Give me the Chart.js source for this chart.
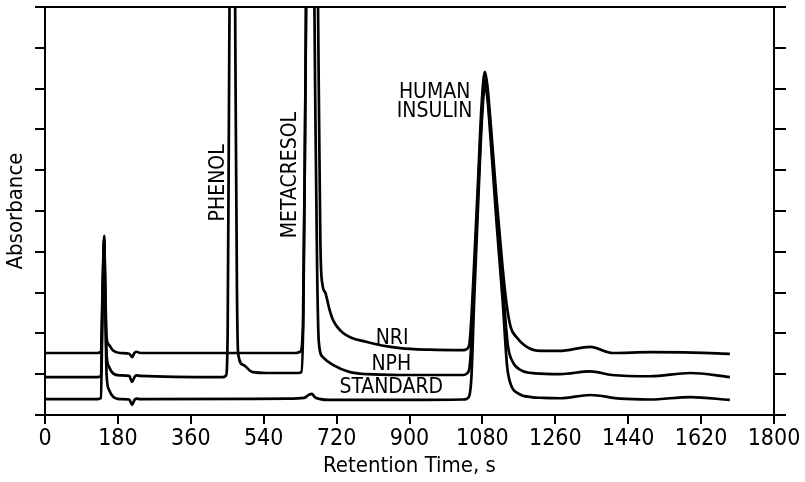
<!DOCTYPE html>
<html><head><meta charset="utf-8">
<script src="https://cdn.jsdelivr.net/npm/chart.js@4.4.0/dist/chart.umd.min.js"></script>
<style>html,body{margin:0;padding:0;background:#fff;}#wrap{width:805px;height:482px;}</style>
</head><body><div id="wrap"><canvas id="c" width="805" height="482"></canvas></div>
<script>
// ---- data (retention time in s, absorbance in arbitrary units) ----
const xTickValues = [0, 180, 360, 540, 720, 900, 1080, 1260, 1440, 1620, 1800];
const seriesNames = ['NRI', 'NPH', 'STANDARD'];

const nriTime = [0,130,138,142,146,149,152,158,168,185,208,215,221,226,235,400,620,630,637,643,650,660,670,676,680,685,692,702,711,736,795,877,950,1032,1042,1048,1053,1060,1070,1078,1086,1092,1100,1115,1130,1140,1150,1165,1185,1215,1270,1346,1402,1494,1600,1691];
const nriAbs  = [1.52,1.52,1.55,3.0,4.39,3.0,1.9,1.72,1.58,1.52,1.50,1.42,1.52,1.55,1.52,1.52,1.52,1.55,2.2,8,16,17,14,8,4.2,3.2,3.0,2.6,2.33,2.01,1.79,1.64,1.60,1.59,1.62,1.75,2.4,3.8,5.9,7.6,8.41,8.1,7.2,5.3,3.6,2.7,2.15,1.9,1.7,1.58,1.57,1.67,1.52,1.54,1.53,1.50];

const nphTime = [0,130,138,142,146,149,152,158,168,185,208,215,221,226,235,440,447,451,455,460,466,470,474,477,489,513,548,625,633,638,643,650,660,667,672,676,686,711,753,795,877,1032,1042,1048,1053,1060,1070,1078,1086,1092,1100,1115,1130,1143,1155,1175,1210,1272,1346,1400,1494,1593,1691];
const nphAbs  = [0.93,0.93,0.96,2.8,4.3,2.8,1.5,1.18,1.02,0.97,0.96,0.81,0.93,0.97,0.96,0.93,0.97,2.0,9,16,16,9,3,1.5,1.23,1.05,1.03,1.03,1.05,2.5,8,16,15,8,3.5,1.8,1.42,1.23,1.05,1.00,0.98,0.98,1.02,1.15,1.8,3.4,5.6,7.3,8.2,7.9,7.0,5.0,3.2,1.7,1.3,1.1,1.02,1.0,1.07,0.98,0.95,1.03,0.93];

const stdTime = [0,130,138,142,146,149,152,158,168,185,208,215,221,226,235,600,640,652,659,666,680,700,900,1032,1042,1048,1053,1060,1070,1078,1086,1092,1100,1115,1130,1141,1150,1170,1200,1230,1272,1346,1420,1494,1593,1691];
const stdAbs  = [0.39,0.39,0.42,2.6,4.2,2.6,1.0,0.62,0.45,0.39,0.38,0.25,0.37,0.40,0.39,0.40,0.42,0.50,0.52,0.44,0.39,0.37,0.37,0.38,0.40,0.48,0.95,2.9,5.3,7.1,8.05,7.8,6.8,4.7,2.8,1.2,0.75,0.52,0.44,0.42,0.41,0.49,0.40,0.38,0.44,0.37];

// ---- build ----
const FONT = '"Liberation Sans Narrow", "DejaVu Sans Condensed", "Liberation Sans", sans-serif';
const pts = (t, a) => t.map((v, i) => ({x: v, y: a[i]}));
const mkSet = (label, t, a) => ({
  label, data: pts(t, a), showLine: true, pointRadius: 0, borderColor: '#000',
  borderWidth: 2.7, cubicInterpolationMode: 'monotone', fill: false
});

const labelsPlugin = {
  id: 'peakLabels',
  afterDatasetsDraw(chart) {
    const {ctx, scales: {x, y}} = chart;
    const items = [
      {text: 'PHENOL', t: 427, a: 5.69, rot: true},
      {text: 'METACRESOL', t: 605, a: 5.88, rot: true},
      {text: 'HUMAN', t: 962, a: 7.92},
      {text: 'INSULIN', t: 962, a: 7.45},
      {text: seriesNames[0], t: 857, a: 1.91},
      {text: seriesNames[1], t: 855, a: 1.25},
      {text: seriesNames[2], t: 855, a: 0.69}
    ];
    ctx.save();
    ctx.fillStyle = '#000';
    ctx.font = '21px ' + FONT;
    ctx.textAlign = 'center';
    ctx.textBaseline = 'middle';
    items.forEach(it => {
      const px = x.getPixelForValue(it.t), py = y.getPixelForValue(it.a);
      ctx.save();
      ctx.translate(px, py);
      if (it.rot) ctx.rotate(-Math.PI / 2);
      ctx.fillText(it.text, 0, 1);
      ctx.restore();
    });
    ctx.restore();
  }
};

const axisGrid = (len) => ({drawOnChartArea: false, drawTicks: true, tickLength: len, color: '#000', lineWidth: 2});
const axisBorder = {display: true, color: '#000', width: 2};

new Chart(document.getElementById('c'), {
  type: 'scatter',
  data: {datasets: [mkSet(seriesNames[0], nriTime, nriAbs), mkSet(seriesNames[1], nphTime, nphAbs), mkSet(seriesNames[2], stdTime, stdAbs)]},
  options: {
    responsive: false, animation: false, devicePixelRatio: 1,
    layout: {padding: 0},
    plugins: {legend: {display: false}, tooltip: {enabled: false}},
    scales: {
      x: {
        type: 'linear', position: 'bottom', min: 0, max: 1800,
        afterBuildTicks: s => { s.ticks = xTickValues.map(v => ({value: v})); },
        ticks: {color: '#000', font: {family: FONT, size: 23}, padding: 1, maxRotation: 0, autoSkip: false, callback: v => String(v)},
        grid: axisGrid(9), border: axisBorder,
        title: {display: true, text: 'Retention Time, s', color: '#000', font: {family: FONT, size: 22}, padding: {top: 0, bottom: 3}},
        afterFit: s => { s.height = 67; }
      },
      x2: {
        type: 'linear', position: 'top', min: 0, max: 1800,
        ticks: {display: false}, grid: {display: false, drawTicks: false}, border: axisBorder,
        afterFit: s => { s.height = 7; }
      },
      y: {
        type: 'linear', position: 'left', min: 0, max: 10,
        ticks: {display: false, stepSize: 1},
        grid: axisGrid(10), border: axisBorder,
        title: {display: true, text: 'Absorbance', color: '#000', font: {family: FONT, size: 22}, padding: {top: 3, bottom: 0}},
        afterFit: s => { s.width = 45; }
      },
      y2: {
        type: 'linear', position: 'right', min: 0, max: 10,
        ticks: {display: false, stepSize: 1},
        grid: axisGrid(12), border: axisBorder,
        afterFit: s => { s.width = 31; }
      }
    }
  },
  plugins: [labelsPlugin]
});
</script>
</body></html>
